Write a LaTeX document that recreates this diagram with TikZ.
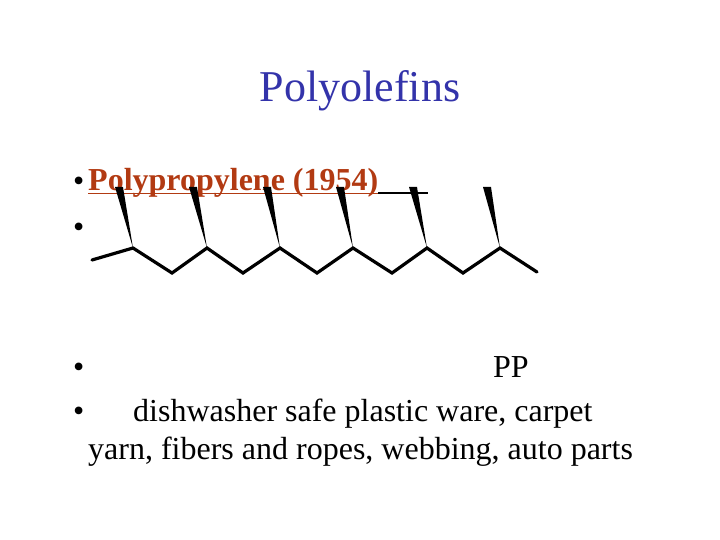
\documentclass[tikz,border=0pt]{standalone}
\usepackage{fontspec}
\setmainfont{Liberation Serif}
\begin{document}
\begin{tikzpicture}[x=1pt,y=-1pt,
  bond/.style={line width=3.2pt,line cap=round,line join=miter},
  txt/.style={anchor=base west,inner sep=0pt,font=\fontsize{32}{36}\selectfont}]
\useasboundingbox (0,0) rectangle (720,540);
\definecolor{ttl}{HTML}{3333AA}\definecolor{rd}{HTML}{B23A12}
\node[font=\fontsize{44}{48}\selectfont,text=ttl,anchor=base,inner sep=0pt] (title) at (360,102) {Polyolefins};
\node[txt] (b1) at (73,192) {•};
\node[txt] (b2) at (73,237) {•};
\node[txt] (b3) at (73,377) {•};
\node[txt] (b4) at (73,421) {•};
\node[txt,text=rd,font=\fontsize{32}{36}\selectfont\bfseries] (pp) at (88,191) {Polypropylene (1954)};
\draw[rd,line width=1.6pt] (pp.base west) ++(0,2.5) -- ++(290,0) coordinate (u1);
\coordinate (u2) at (428,193.5);
\draw[line width=2pt] (u1) -- (u2);
\node[txt] (ppl) at (493,377) {PP};
\node[txt] (l1) at (133,421) {dishwasher safe plastic ware, carpet};
\node[txt] (l2) at (88,459) {yarn, fibers and ropes, webbing, auto parts};
\draw[bond] (92,260) -- (133,248) -- (172,273) -- (207,248) -- (243,273) -- (280,248) -- (317,273) -- (353,248) -- (392,273) -- (427,248) -- (463,273) -- (500,248) -- (537,272);
\foreach \bx/\tx in {133/119,207/193,280/267,353/340,427/413,500/487}{
  \fill (\bx,248) -- (\tx-4,187) -- (\tx+4,187) -- cycle;}
\end{tikzpicture}
\end{document}
